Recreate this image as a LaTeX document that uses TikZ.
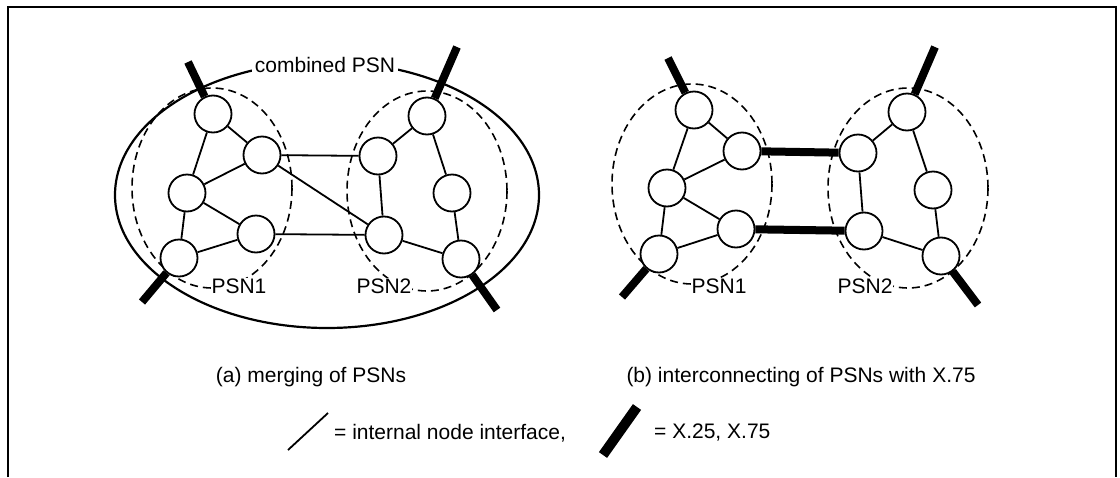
\documentclass[tikz,border=0pt]{standalone}
\usepackage{fontspec}
\setmainfont{Liberation Sans}

\begin{document}
\begin{tikzpicture}[x=1pt,y=-1pt,
  psn/.style={circle,draw,fill=white,line width=1.8pt,minimum size=37pt,inner sep=0pt},
  link/.style={line width=1.8pt},
  trunk/.style={line width=8pt},
  group/.style={line width=1.6pt,dash pattern=on 8pt off 5pt},
  lbl/.style={font=\fontsize{21}{25}\selectfont,inner sep=1pt}]
\useasboundingbox (0,0) rectangle (1120,477);
\draw[line width=2.4pt] (8,477) -- (8,7) -- (1116,7) -- (1116,477);
\draw[line width=2.2pt] (327,195) ellipse [x radius=212, y radius=133];
\node[lbl,fill=white,inner sep=3pt] (comb) at (325,65) {combined PSN};
\foreach \cx/\cy in {212/188, 427/191, 692/184, 908/188}
  \draw[group] (\cx,\cy) ellipse [x radius=80, y radius=100];
\foreach \n/\x/\y in {a1/213/114, a2/262/155, a3/187/193, a4/256/234, a5/179/258,
    b1/378/156, b2/427/116, b3/452/193, b4/384/235, b5/461/259,
    c1/694/110, c2/742/151, c3/667/188, c4/736/229, c5/659/254,
    d1/858/153, d2/907/112, d3/933/190, d4/864/231, d5/941/256}
  \node[psn] (\n) at (\x,\y) {};
\foreach \p in {a,c} {
  \draw[link] (\p1) -- (\p2) (\p1) -- (\p3) (\p2) -- (\p3) (\p3) -- (\p4)
    (\p3) -- (\p5) (\p4) -- (\p5);
}
\foreach \p in {b,d} {
  \draw[link] (\p1) -- (\p2) (\p1) -- (\p4) (\p2) -- (\p3) (\p3) -- (\p5)
    (\p4) -- (\p5);
}
\draw[link] (a2) -- (b1) (a2) -- (b4) (a4) -- (b4);
\draw[trunk] (c2) -- (d1) (c4) -- (d4);
% X.25 access lines
\foreach \n/\x/\y in {a1/188/62, a5/142/302, b2/457/47, b5/497/310,
    c1/668/58, c5/622/297, d2/935/47, d5/978/305} {
  \coordinate (e\n) at (\x,\y);
  \draw[trunk] (\n) -- (e\n);
}
\foreach \n/\x/\t in {l1/239/PSN1, l2/384/PSN2, l3/719/PSN1, l4/865/PSN2}
  \node[lbl,fill=white] (\n) at (\x,286) {\t};
\node[lbl] (capa) at (311,377) {(a) merging of PSNs};
\node[lbl] (capb) at (801,377) {(b) interconnecting of PSNs with X.75};
\coordinate (ia) at (288,450);
\coordinate (ib) at (328,413);
\draw[link] (ia) -- (ib);
\node[lbl,anchor=west] (itxt) at (333,433) {= internal node interface,};
\coordinate (xa) at (603,455);
\coordinate (xb) at (637,407);
\draw[line width=10pt] (xa) -- (xb);
\node[lbl,anchor=west] (xtxt) at (653,433) {= X.25, X.75};
\end{tikzpicture}
\end{document}
